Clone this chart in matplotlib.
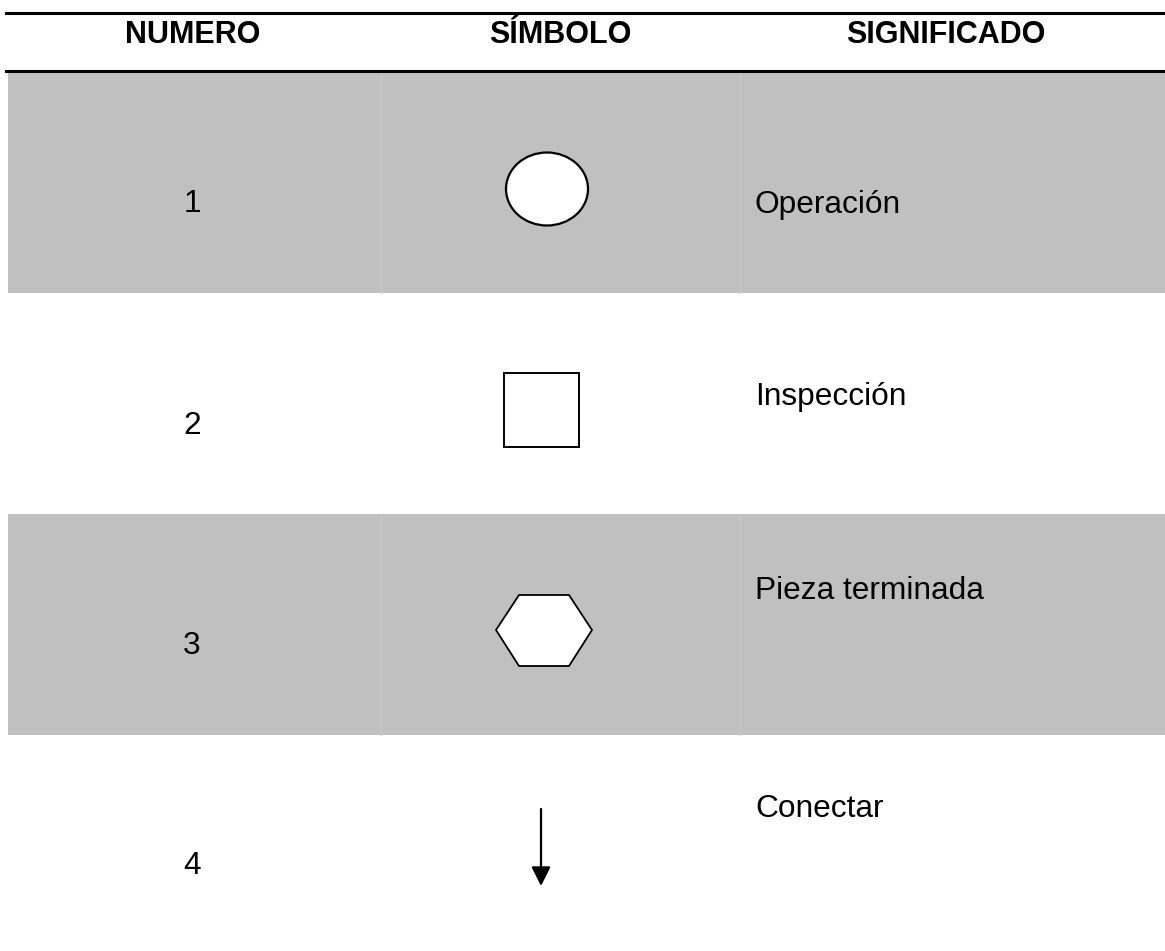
import matplotlib
matplotlib.use('Agg')
import matplotlib.pyplot as plt
from matplotlib.patches import Rectangle, Ellipse, Polygon

plt.rcParams['font.family'] = ['Liberation Sans', 'DejaVu Sans']

headers = ['NUMERO', 'SÍMBOLO', 'SIGNIFICADO']
numeros = ['1', '2', '3', '4']
significados = ['Operación', 'Inspección', 'Pieza terminada', 'Conectar']
gris = '#C0C0C0'

W, H = 1165, 951
fig = plt.figure(figsize=(W / 100, H / 100), dpi=100)
ax = fig.add_axes([0, 0, 1, 1])
ax.set_xlim(0, W)
ax.set_ylim(H, 0)
ax.axis('off')

# filas sombreadas
for y0, y1 in [(72, 293), (514, 735)]:
    ax.add_patch(Rectangle((8, y0), W - 8, y1 - y0, color=gris, lw=0))
    ax.plot([381, 381], [y0, y1], color='#CACACA', lw=0.8)
    ax.plot([740, 740], [y0, y1], color='#CACACA', lw=0.8)

# lineas de cabecera
ax.plot([6, W], [13, 13], color='black', lw=2.2)
ax.plot([6, W], [71, 71], color='black', lw=2.2)

hx = [193, 560, 946]
for x, t in zip(hx, headers):
    ax.text(x, 43, t, ha='center', va='baseline', fontsize=22, fontweight='bold')

# numeros y significados
num_y = [212, 434, 654, 874]
sig_y = [213, 405, 599, 817]
for i in range(4):
    ax.text(192, num_y[i], numeros[i], ha='center', va='baseline', fontsize=22.8)
    ax.text(755, sig_y[i], significados[i], ha='left', va='baseline', fontsize=22.8)

# simbolos
ax.add_patch(Ellipse((547, 189), 82, 73, facecolor='white', edgecolor='black', lw=1.6))
ax.add_patch(Rectangle((504, 373), 75, 74, facecolor='white', edgecolor='black', lw=1.4))
ax.add_patch(Polygon([(496, 630), (519, 595), (569, 595), (592, 630), (569, 666), (519, 666)],
                     closed=True, facecolor='white', edgecolor='black', lw=1.3))
ax.annotate('', xy=(541, 886), xytext=(541, 809),
            arrowprops=dict(arrowstyle='-|>', color='black', lw=1.6, mutation_scale=29,
                            shrinkA=0, shrinkB=0))

fig.savefig('out.png', dpi=100)
